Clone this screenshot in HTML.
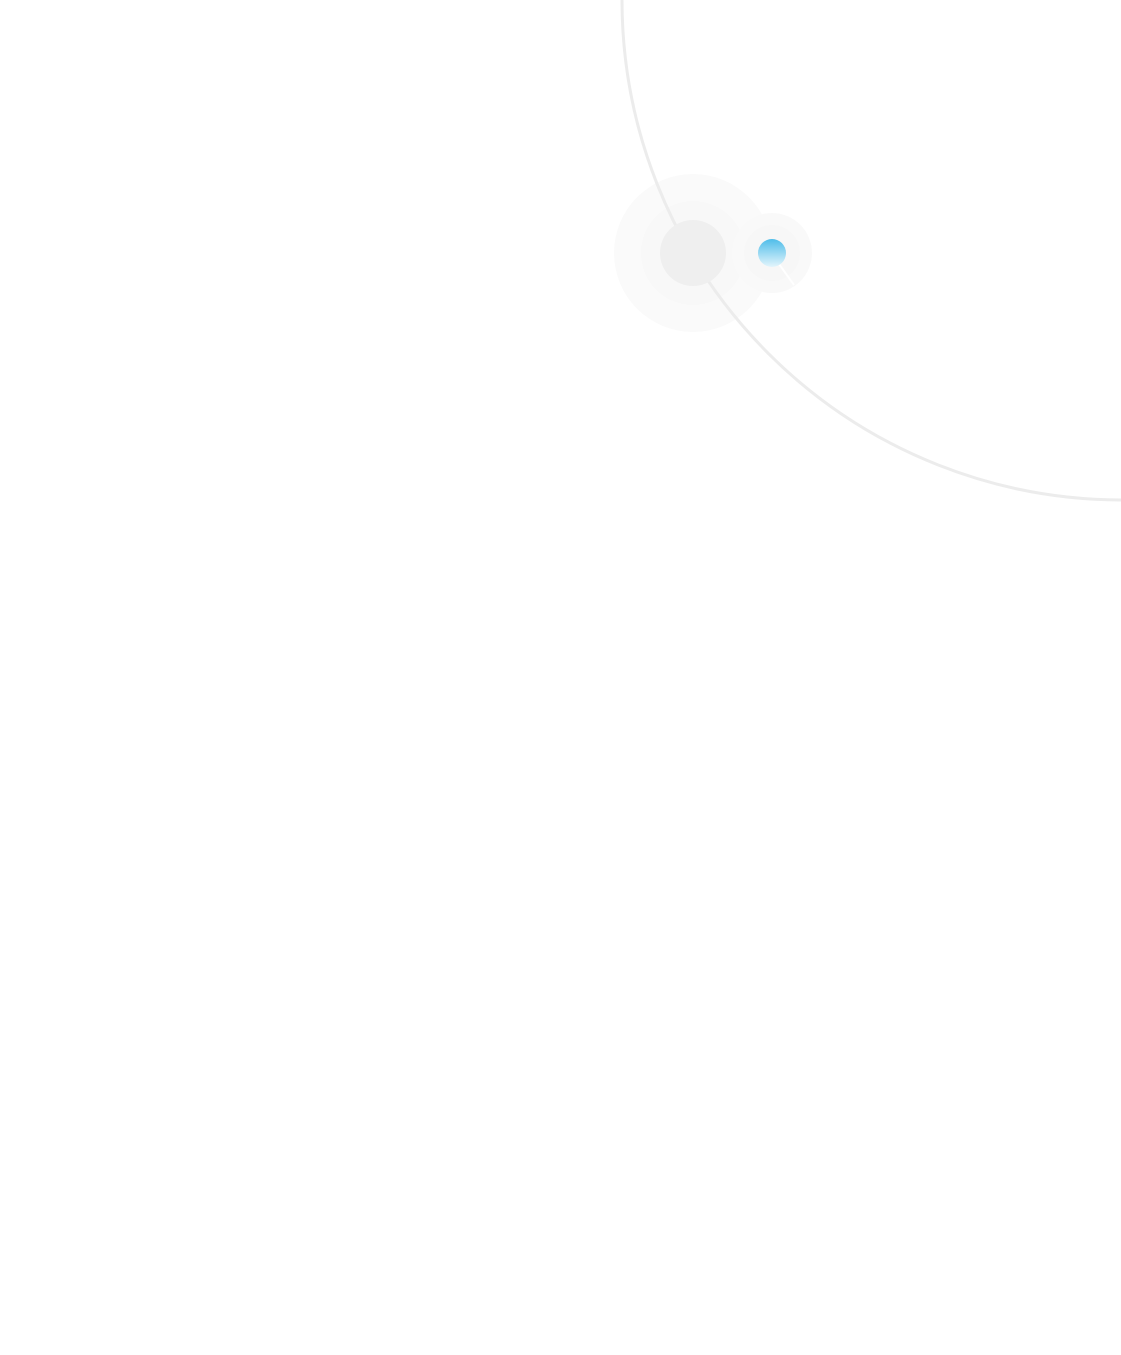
<!DOCTYPE html>
<html><head><style>html,body{margin:0;padding:0;background:#fff;}</style></head>
<body>
<svg width="1121" height="1355" viewBox="0 0 1121 1355" xmlns="http://www.w3.org/2000/svg" style="display:block">
<defs>
<linearGradient id="g" x1="0" y1="0" x2="0" y2="1">
<stop offset="0" stop-color="#4fbde9"/>
<stop offset="1" stop-color="#e3f5fc"/>
</linearGradient>
</defs>
<rect width="1121" height="1355" fill="#fff"/>
<circle cx="693" cy="253" r="79" fill="#fafafa"/>
<circle cx="693" cy="253" r="52" fill="#f8f8f8"/>
<circle cx="772" cy="253" r="40" fill="#f9f9f9"/>
<circle cx="772" cy="253" r="28" fill="#f7f7f7"/>
<path d="M622 0 A500 500 0 0 0 1122 500" fill="none" stroke="#ececec" stroke-width="3"/>
<line x1="779" y1="264" x2="794" y2="285" stroke="#fff" stroke-width="2"/>
<circle cx="693" cy="253" r="33" fill="#efefef"/>
<circle cx="772" cy="253" r="14" fill="url(#g)"/>
</svg>
</body></html>
